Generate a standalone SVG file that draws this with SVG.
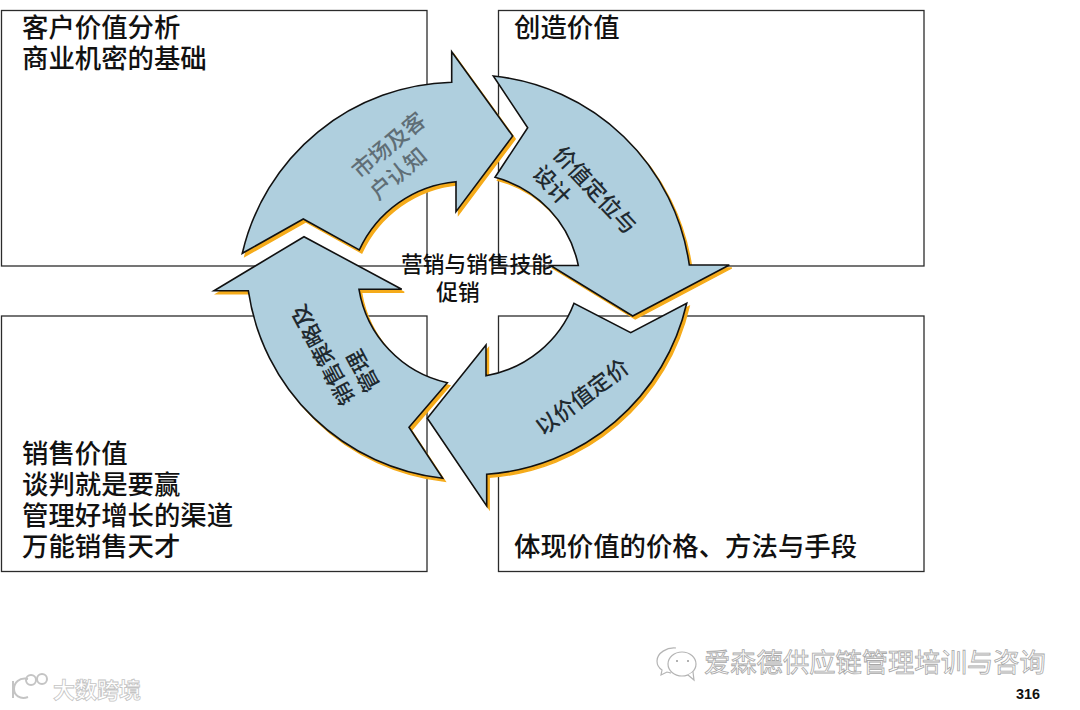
<svg xmlns="http://www.w3.org/2000/svg" width="1080" height="710" viewBox="0 0 1080 710">
<style>
text{font-family:"Noto Sans CJK SC","Noto Sans",sans-serif}
.box{fill:#fff;stroke:#2b2b2b;stroke-width:1.3}
.t{font-size:26.4px;fill:#111;font-weight:500}
.arrow{fill:#afcfde;stroke:#111;stroke-width:1.6;stroke-linejoin:miter}
.shadow{fill:#f5ab1a;stroke:#f5ab1a;stroke-width:1.4}
.l{font-size:22px;fill:#1f2a30;font-weight:500}
.g{fill:#5f6e76}
.c{font-size:21.7px;fill:#111;text-anchor:middle;font-weight:500}
.wm{font-size:26.3px;fill:#fff;stroke:#a8a8a8;stroke-width:.8}
.ic{fill:#fff;stroke:#b4b4b4;stroke-width:1.2}
.lg{fill:none;stroke:#c4c4c4;stroke-width:2}
</style>
<defs>
<path id="a1" d="M242.3 253.3A221 221 0 0 1 451.7 82.3V51.7L512.7 136L456 211.7V181.7A118 118 0 0 0 359.3 250L303.3 219Z"/>
<path id="a2" d="M493.3 76A221 221 0 0 1 689.3 265H729.3L632.7 316L550.5 265.5H578.3A115 115 0 0 0 495 177.3L527.7 127.7Z"/>
<path id="a3" d="M686.7 303.3A221 221 0 0 1 486.7 474.3V506L427.3 418.3L486 345V375.7A115 115 0 0 0 574 303.3L630.7 332.7Z"/>
<path id="a4" d="M442.7 478.3A221 221 0 0 1 248.3 290.7H214L304 236.7L401.7 289.3H359A115 115 0 0 0 447.3 382.7L409 427.3Z"/>
</defs>
<rect width="1080" height="710" fill="#fff"/>
<g id="box-tl"><rect class="box" x="1.5" y="10.5" width="425.5" height="255.5"/>
<text class="t" x="22" y="37">客户价值分析</text><text class="t" x="22" y="68">商业机密的基础</text></g>
<g id="box-tr"><rect class="box" x="498.5" y="10.5" width="425.5" height="255.5"/>
<text class="t" x="514" y="37">创造价值</text></g>
<g id="box-bl"><rect class="box" x="1.5" y="316" width="425.5" height="255.5"/>
<text class="t" x="22" y="463">销售价值</text><text class="t" x="22" y="494">谈判就是要赢</text><text class="t" x="22" y="525">管理好增长的渠道</text><text class="t" x="22" y="556">万能销售天才</text></g>
<g id="box-br"><rect class="box" x="498.5" y="316" width="425.5" height="255.5"/>
<text class="t" x="514" y="556">体现价值的价格、方法与手段</text></g>
<g id="connectors">
<g id="arrow-market"><use href="#a1" class="shadow" x="2.5" y="3"/><use href="#a1" class="arrow"/>
<g transform="translate(388.5 145) rotate(-40)"><text class="l g" x="-44" y="8">市场及客</text><text class="l g" x="-44" y="36">户认知</text></g></g>
<g id="arrow-design"><use href="#a2" class="shadow" x="2.5" y="3"/><use href="#a2" class="arrow"/>
<g transform="translate(595 190) rotate(47)"><text class="l" x="-55" y="8">价值定位与</text><text class="l" x="-55" y="36">设计</text></g></g>
<g id="arrow-price"><use href="#a3" class="shadow" x="2.5" y="3"/><use href="#a3" class="arrow"/>
<g transform="translate(582 397) rotate(-37)"><text class="l" x="-55" y="8">以价值定价</text></g></g>
<g id="arrow-sale"><use href="#a4" class="shadow" x="2.5" y="3"/><use href="#a4" class="arrow"/>
<g transform="translate(323 355) rotate(-118)"><text class="l" x="-55" y="8">销售策略及</text><text class="l" x="-55" y="36">管理</text></g></g>
</g>
<g id="center"><text class="c" x="477" y="272">营销与销售技能</text><text class="c" x="458" y="300">促销</text></g>
<g id="watermark">
<path class="ic" d="M676 648c-9-1-19 5-19 13 0 4 2 7 5 9l-1 5 6-3c1 0 3 1 4 1"/>
<ellipse class="ic" cx="682" cy="664" rx="14" ry="12"/><path class="ic" d="M688 675l6 5-1-8"/>
<circle cx="677" cy="661" r="1" fill="#999"/><circle cx="688" cy="661" r="1" fill="#999"/>
<text class="wm" x="704" y="672">爱森德供应链管理培训与咨询</text>
<path class="lg" d="M13 681v17M28 679c-9-2-14 4-14 10s6 11 14 8"/><circle class="lg" cx="31" cy="680" r="5"/><circle class="lg" cx="42" cy="679" r="5"/>
<text class="wm" x="53" y="698" style="font-size:22px;stroke:#c4c4c4;font-weight:700">大数跨境</text>
</g>
<text x="1016" y="699" style="font-family:'Liberation Sans',sans-serif;font-weight:700;font-size:14.4px;fill:#111">316</text>
</svg>
